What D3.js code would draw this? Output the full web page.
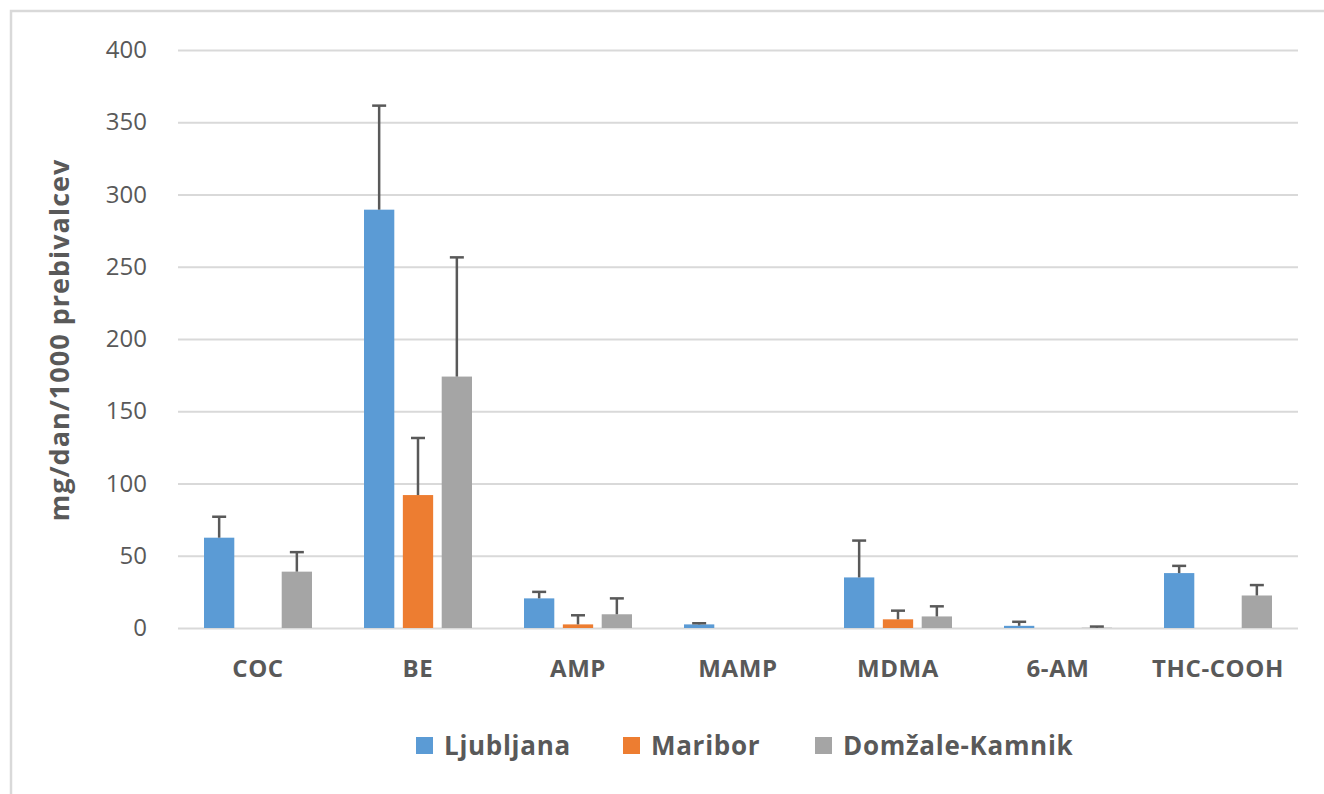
<!DOCTYPE html>
<html><head><meta charset="utf-8">
<script src="https://cdn.jsdelivr.net/npm/d3@7"></script>
<style>body{margin:0;background:#fff}svg{display:block}</style>
</head><body>
<script>
const categories = ["COC","BE","AMP","MAMP","MDMA","6-AM","THC-COOH"];
const seriesNames = ["Ljubljana","Maribor","Domžale-Kamnik"];
const ljubljana = [62.5, 289.5, 20.5, 2.5, 35, 1.5, 38];
const ljubljanaErr = [14.5, 72, 4.5, 0.8, 25.5, 2.8, 5];
const maribor = [null, 92, 2.5, null, 6, null, null];
const mariborErr = [null, 39.5, 6.3, null, 6, null, null];
const domzale = [39, 174, 9.5, null, 8, 0.2, 22.5];
const domzaleErr = [13.5, 82.5, 11, null, 7, 0.8, 7.2];
const yTicks = [0,50,100,150,200,250,300,350,400];
const colors = ["#5b9bd5","#ed7d31","#a5a5a5"];

const W = 1324, H = 794;
const svg = d3.select("body").append("svg").attr("width",W).attr("height",H);
svg.append("rect").attr("x",11).attr("y",11).attr("width",1330).attr("height",800)
  .attr("fill","none").attr("stroke","#d9d9d9").attr("stroke-width",2.5);

const mLeft = 178, mRight = 1298, mTop = 50, mBottom = 628;
const x0 = d3.scaleBand().domain(categories).range([mLeft,mRight]).paddingInner(0).paddingOuter(0);
const x1 = d3.scaleBand().domain(seriesNames).range([x0.bandwidth()/2-54, x0.bandwidth()/2+54]).paddingInner(0.22).paddingOuter(0);
const y = d3.scaleLinear().domain([0,400]).range([mBottom,mTop]);

const font = "'Open Sans', sans-serif";
const gy = svg.append("g").attr("transform",`translate(${mLeft},0)`)
  .call(d3.axisLeft(y).tickValues(yTicks).tickSize(-(mRight-mLeft)).tickPadding(31));
gy.select(".domain").remove();
gy.selectAll(".tick line").attr("stroke","#d9d9d9").attr("stroke-width",2);
gy.selectAll(".tick text").attr("fill","#595959").style("font-family",font).style("font-size","24px");

const gx = svg.append("g").attr("transform",`translate(0,${mBottom})`)
  .call(d3.axisBottom(x0).tickSize(0).tickPadding(32));
gx.select(".domain").remove();
gx.selectAll(".tick text").attr("fill","#595959").style("font-family",font).style("font-size","24px")
  .style("font-weight","bold").style("letter-spacing","0.6px");

const data = [ljubljana, maribor, domzale];
const errs = [ljubljanaErr, mariborErr, domzaleErr];
seriesNames.forEach((s,si)=>{
  const g = svg.append("g");
  categories.forEach((c,ci)=>{
    const v = data[si][ci];
    if (v === null) return;
    const bx = x0(c)+x1(s), bw = x1.bandwidth();
    g.append("rect").attr("x",bx).attr("y",y(v)).attr("width",bw).attr("height",y(0)-y(v))
      .attr("fill",colors[si]);
  });
});
seriesNames.forEach((s,si)=>{
  const g = svg.append("g").attr("stroke","#595959").attr("stroke-width",2.5);
  categories.forEach((c,ci)=>{
    const v = data[si][ci], e = errs[si][ci];
    if (v === null || e === null) return;
    const cx = x0(c)+x1(s)+x1.bandwidth()/2;
    g.append("line").attr("x1",cx).attr("x2",cx).attr("y1",y(v)).attr("y2",y(v+e));
    g.append("line").attr("x1",cx-7).attr("x2",cx+7).attr("y1",y(v+e)).attr("y2",y(v+e));
  });
});

svg.append("text").attr("transform","translate(69,340) rotate(-90)")
  .attr("text-anchor","middle").attr("fill","#595959")
  .style("font-family",font).style("font-size","27px").style("font-weight","bold")
  .style("letter-spacing","1px")
  .text("mg/dan/1000 prebivalcev");

const legX = [416, 623, 815];
const leg = svg.append("g");
seriesNames.forEach((s,i)=>{
  leg.append("rect").attr("x",legX[i]).attr("y",737).attr("width",17).attr("height",17).attr("fill",colors[i]);
  leg.append("text").attr("x",legX[i]+28).attr("y",755).attr("fill","#595959")
    .style("font-family",font).style("font-size","26px").style("font-weight","bold")
    .style("letter-spacing","0.7px").text(s);
});
</script>
</body></html>
